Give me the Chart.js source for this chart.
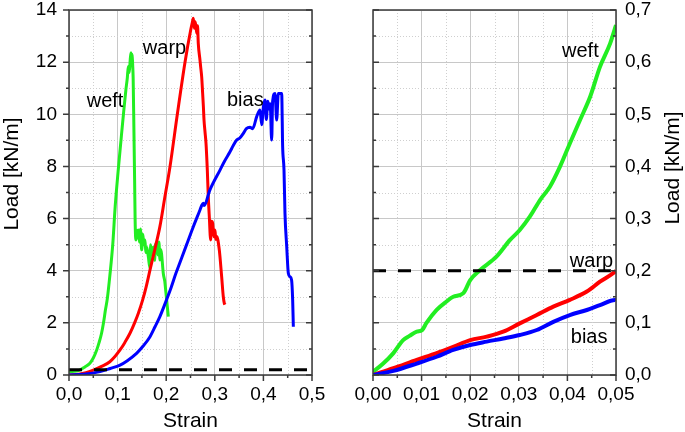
<!DOCTYPE html>
<html>
<head>
<meta charset="utf-8">
<script src="https://cdn.jsdelivr.net/npm/chart.js@4.4.1/dist/chart.umd.min.js"></script>
<style>
html,body{margin:0;padding:0;background:#fff;}
#wrap{position:relative;width:685px;height:432px;overflow:hidden;}
#c1{position:absolute;left:0;top:0;}
#c2{position:absolute;left:340px;top:0;}
</style>
</head>
<body>
<div id="wrap">
<canvas id="c1" width="340" height="432"></canvas>
<canvas id="c2" width="345" height="432"></canvas>
</div>
<script>
// ---------- Data: full-range test (left panel) ----------
const weftX = [0.000,0.010,0.022,0.032,0.043,0.050,0.057,0.062,0.067,0.071,0.075,0.079,0.084,0.090,0.095,0.101,0.107,0.112,0.117,0.120,0.122,0.124,0.126,0.1276,0.129,0.130,0.131,0.132,0.1335,0.135,0.136,0.137,0.138,0.140,0.1427,0.145,0.147,0.1495,0.152,0.154,0.1564,0.158,0.160,0.1632,0.1667,0.168,0.170,0.1735,0.176,0.178,0.1804,0.183,0.185,0.1872,0.189,0.1907,0.194,0.197,0.1996,0.2023,0.2044];
const weftY = [0.12,0.14,0.19,0.30,0.45,0.65,0.96,1.25,1.60,2.00,2.50,2.95,3.80,5.00,6.46,7.80,9.01,10.0,10.93,11.40,11.83,11.60,12.10,12.36,12.00,12.30,11.90,11.40,9.5,7.5,6.0,5.3,5.18,5.5,5.56,5.1,5.6,4.8,5.4,5.0,5.18,4.7,4.9,4.54,4.1,5.0,4.6,4.9,4.4,5.0,5.05,4.6,5.1,4.41,4.8,4.6,3.9,3.6,3.13,2.62,2.24];

const warpX = [0,0.020,0.035,0.050,0.067,0.084,0.095,0.105,0.115,0.1255,0.135,0.1427,0.1516,0.159,0.1667,0.177,0.187,0.197,0.2078,0.2229,0.2387,0.2504,0.2535,0.2558,0.258,0.2595,0.2613,0.263,0.2645,0.266,0.2695,0.271,0.273,0.275,0.2765,0.2778,0.280,0.2819,0.2846,0.2866,0.2887,0.2915,0.293,0.2956,0.298,0.3004,0.302,0.3039,0.3093,0.3141,0.3175,0.3196,0.321];
const warpY = [0,0.03,0.09,0.19,0.33,0.51,0.72,0.96,1.25,1.60,2.00,2.37,2.88,3.40,4.03,4.85,5.69,6.80,7.99,10.0,12.0,13.23,13.5,13.68,13.3,13.55,13.36,13.1,13.4,12.72,12.08,11.8,11.44,10.8,10.3,9.78,9.3,8.89,7.86,6.84,6.07,5.18,5.9,5.82,5.3,5.56,5.2,5.31,4.79,3.77,3.0,2.75,2.7];

const biasX = [0,0.030,0.064,0.085,0.105,0.120,0.139,0.153,0.1667,0.177,0.187,0.201,0.210,0.220,0.231,0.242,0.255,0.2695,0.273,0.2764,0.278,0.290,0.3107,0.320,0.331,0.338,0.345,0.352,0.3587,0.365,0.3724,0.378,0.3862,0.393,0.3965,0.400,0.4033,0.406,0.409,0.412,0.414,0.417,0.419,0.4239,0.4273,0.4307,0.434,0.4376,0.4396,0.4424,0.4444,0.448,0.4513,0.4547,0.458,0.4602,0.4616];
const biasY = [0,0.03,0.13,0.25,0.38,0.55,0.83,1.12,1.47,1.85,2.24,2.90,3.35,3.90,4.45,5.00,5.65,6.33,6.50,6.59,6.50,7.10,7.86,8.20,8.55,8.80,9.01,9.10,9.27,9.45,9.50,9.45,9.91,10.16,9.6,10.3,10.55,9.8,10.5,10.2,10.4,9.01,10.5,10.8,9.78,10.8,10.8,10.8,8.76,7.86,6.2,4.92,3.9,3.77,3.64,2.88,1.85];

// ---------- Data: initial region (right panel) ----------
const weftZX = [0,0.0021,0.0042,0.0062,0.0075,0.009,0.0101,0.011,0.0131,0.015,0.0165,0.0186,0.020,0.022,0.0254,0.0282,0.0302,0.0323,0.0344,0.0364,0.0385,0.0405,0.0426,0.0447,0.0467,0.0488,0.050];
const weftZY = [0.006,0.022,0.042,0.067,0.075,0.083,0.086,0.100,0.125,0.140,0.150,0.157,0.182,0.201,0.227,0.259,0.278,0.304,0.336,0.361,0.400,0.444,0.489,0.534,0.591,0.636,0.671];

const warpZX = [0,0.0042,0.009,0.0131,0.0165,0.020,0.0234,0.0268,0.0302,0.0337,0.0371,0.0405,0.044,0.0467,0.0498,0.050];
const warpZY = [0,0.013,0.029,0.042,0.054,0.067,0.0735,0.083,0.099,0.115,0.131,0.144,0.160,0.179,0.198,0.200];

const biasZX = [0,0.0042,0.009,0.0131,0.0165,0.020,0.0234,0.0268,0.0302,0.0337,0.0371,0.0405,0.044,0.0467,0.0498,0.050];
const biasZY = [0,0.008,0.022,0.035,0.048,0.0575,0.064,0.070,0.0767,0.0863,0.102,0.115,0.1247,0.134,0.144,0.142];

// threshold line (kN/m)
const thresholdLoad = 0.2;

// axis ranges / ticks
const leftXMax = 0.5, leftXStep = 0.1, leftYMax = 14, leftYStep = 2;
const rightXMax = 0.05, rightXStep = 0.01, rightYMax = 0.7, rightYStep = 0.1;

const seriesNames = ['weft', 'warp', 'bias'];

// ---------- helpers ----------
const FONT = '"Liberation Sans", Arial, Helvetica, sans-serif';
const GREEN = '#22ee22', RED = '#ff0000', BLUE = '#0000ff';
const pts = (xs, ys) => xs.map((v, i) => ({x: v, y: ys[i]}));
const fmt = d => v => Number(v).toFixed(d).replace('.', ',');

const framePlugin = {
  id: 'frame',
  beforeDatasetsDraw(chart, args, o) {
    const {ctx, chartArea: a, scales} = chart;
    const x = scales.x, y = scales.y;
    ctx.save();
    ctx.strokeStyle = '#cfcfcf'; ctx.lineWidth = 1; ctx.setLineDash([1, 2]);
    ctx.beginPath();
    for (let v = o.xStep / 2; v < x.max; v += o.xStep) {
      const p = Math.round(x.getPixelForValue(v)) + 0.5;
      ctx.moveTo(p, a.top); ctx.lineTo(p, a.bottom);
    }
    for (let v = o.yStep / 2; v < y.max; v += o.yStep) {
      const p = Math.round(y.getPixelForValue(v)) + 0.5;
      ctx.moveTo(a.left, p); ctx.lineTo(a.right, p);
    }
    ctx.stroke();
    ctx.restore();
  },
  afterDraw(chart, args, o) {
    const {ctx, chartArea: a, scales} = chart;
    const x = scales.x, y = scales.y;
    ctx.save();
    ctx.setLineDash([]);
    ctx.strokeStyle = '#3a3a3a'; ctx.lineWidth = 1.5;
    ctx.strokeRect(a.left, a.top, a.right - a.left, a.bottom - a.top);
    ctx.beginPath();
    const xh = o.xStep / 2;
    for (let i = 0; i * xh <= x.max + 1e-9; i++) {
      const p = x.getPixelForValue(i * xh), len = i % 2 === 0 ? 6 : 3;
      ctx.moveTo(p, a.bottom); ctx.lineTo(p, a.bottom + len);
    }
    const yh = o.yStep / 2;
    for (let i = 0; i * yh <= y.max + 1e-9; i++) {
      const p = y.getPixelForValue(i * yh), len = i % 2 === 0 ? 6 : 3;
      ctx.moveTo(a.left, p); ctx.lineTo(a.left + o.leftDir * len, p);
      ctx.moveTo(a.right, p); ctx.lineTo(a.right + o.rightDir * len, p);
    }
    ctx.stroke();
    ctx.fillStyle = '#000';
    ctx.font = '21px ' + FONT;
    ctx.textAlign = 'center'; ctx.textBaseline = 'middle';
    ctx.fillText(o.xTitle, (a.left + a.right) / 2, o.xTitleY);
    ctx.save();
    ctx.translate(o.yTitleX, o.yTitleY); ctx.rotate(-Math.PI / 2);
    ctx.fillText(o.yTitle, 0, 0);
    ctx.restore();
    ctx.font = '20px ' + FONT;
    ctx.textAlign = 'left'; ctx.textBaseline = 'alphabetic';
    o.labels.forEach(l => ctx.fillText(l.text, x.getPixelForValue(l.x), y.getPixelForValue(l.y)));
    ctx.restore();
  }
};

function makeChart(el, cfg) {
  const tickFont = {family: FONT, size: 19, lineHeight: 1};
  return new Chart(document.getElementById(el), {
    type: 'scatter',
    data: {
      datasets: [
        {label: 'threshold', data: [{x: 0, y: thresholdLoad}, {x: cfg.xMax, y: thresholdLoad}], borderColor: '#000', borderWidth: 3, borderDash: [13, 12]},
        {label: seriesNames[2], data: cfg.bias, borderColor: BLUE, borderWidth: cfg.lw},
        {label: seriesNames[1], data: cfg.warp, borderColor: RED, borderWidth: cfg.lw},
        {label: seriesNames[0], data: cfg.weft, borderColor: GREEN, borderWidth: cfg.lw}
      ].map(d => Object.assign({showLine: true, pointRadius: 0, cubicInterpolationMode: 'monotone', fill: false, borderJoinStyle: 'round'}, d))
    },
    options: {
      responsive: false, animation: false, events: [],
      layout: {padding: cfg.padding},
      plugins: {legend: {display: false}, tooltip: {enabled: false}, frame: cfg.frame},
      scales: {
        x: {
          type: 'linear', position: 'bottom', min: 0, max: cfg.xMax,
          afterFit: s => { s.height = 57; s.paddingLeft = 0; s.paddingRight = 0; },
          grid: {color: '#c8c8c8', lineWidth: 1, drawTicks: false},
          border: {display: false},
          ticks: {stepSize: cfg.xStep, autoSkip: false, maxRotation: 0, padding: 10, color: '#000', font: tickFont, callback: fmt(cfg.xDec)}
        },
        y: {
          type: 'linear', position: cfg.yPos, min: 0, max: cfg.yMax,
          afterFit: s => { s.width = 69; s.paddingTop = 0; s.paddingBottom = 0; },
          grid: {color: '#c8c8c8', lineWidth: 1, drawTicks: false},
          border: {display: false},
          ticks: {stepSize: cfg.yStep, autoSkip: false, padding: cfg.yPad, color: '#000', font: tickFont, callback: fmt(cfg.yDec)}
        }
      }
    },
    plugins: [framePlugin]
  });
}

makeChart('c1', {
  xMax: leftXMax, xStep: leftXStep, yMax: leftYMax, yStep: leftYStep, xDec: 1, yDec: 0,
  yPos: 'left', yPad: 12, lw: 3,
  padding: {left: 0, right: 28, top: 10, bottom: 0},
  weft: pts(weftX, weftY), warp: pts(warpX, warpY), bias: pts(biasX, biasY),
  frame: {xStep: leftXStep, yStep: leftYStep, leftDir: -1, rightDir: -1,
    xTitle: 'Strain', xTitleY: 421, yTitle: 'Load [kN/m]', yTitleX: 12, yTitleY: 174,
    labels: [{text: 'weft', x: 0.0364, y: 10.28}, {text: 'warp', x: 0.152, y: 12.31}, {text: 'bias', x: 0.325, y: 10.32}]}
});

makeChart('c2', {
  xMax: rightXMax, xStep: rightXStep, yMax: rightYMax, yStep: rightYStep, xDec: 2, yDec: 1,
  yPos: 'right', yPad: 9, lw: 4,
  padding: {left: 33, right: 0, top: 10, bottom: 0},
  weft: pts(weftZX, weftZY), warp: pts(warpZX, warpZY), bias: pts(biasZX, biasZY),
  frame: {xStep: rightXStep, yStep: rightYStep, leftDir: 1, rightDir: -1,
    xTitle: 'Strain', xTitleY: 421, yTitle: 'Load [kN/m]', yTitleX: 333, yTitleY: 168,
    labels: [{text: 'weft', x: 0.0389, y: 0.610}, {text: 'warp', x: 0.0405, y: 0.207}, {text: 'bias', x: 0.0407, y: 0.0614}]}
});
</script>
</body>
</html>
